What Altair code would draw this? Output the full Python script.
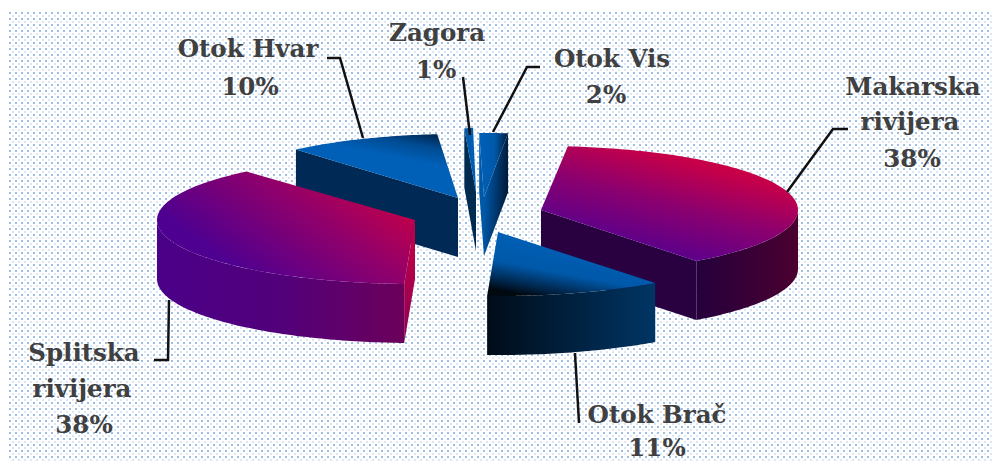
import math
import altair as alt

# Values
names = ["Makarska rivijera", "Otok Brač", "Splitska rivijera", "Otok Hvar", "Zagora", "Otok Vis"]
shares = [38, 11, 38, 10, 1, 2]
START = -84.0  # degrees, clockwise on screen from 3 o'clock

# Slice geometry: apex x, apex y, x radius
apex_x = [541, 498, 415, 458, 476, 484]
apex_y = [210, 232, 220, 198, 192, 197]
radius_x = [257, 260, 258, 248, 140, 230]
RADIUS_Y = 64
DEPTH = 59

# Draw order, back to front
order = [3, 4, 5, 0, 1, 2]


def grad(x1, y1, x2, y2, stops):
    return alt.Gradient(
        gradient="linear", x1=x1, y1=y1, x2=x2, y2=y2,
        stops=[alt.GradientStop(offset=o, color=c) for o, c in stops],
    )


BLUE = "#0060b8"
top_fill = [
    grad(1, 0, 0.4, 1, [(0, "#e0003a"), (0.3, "#c4004a"), (0.6, "#8a0070"), (1, "#4f0092")]),
    grad(0.7, 0.1, 0.25, 1, [(0, "#0062bc"), (0.6, "#0058a8"), (0.88, "#002244"), (1, "#000810")]),
    grad(1, 0.1, 0.15, 0.6, [(0, "#d6003c"), (0.5, "#8f006c"), (1, "#4e0090")]),
    grad(1, 0, 0.7, 0.6, [(0, "#001a38"), (0.4, "#004c94"), (0.75, BLUE), (1, BLUE)]),
    grad(0, 0, 1, 0, [(0, "#0058a8"), (1, BLUE)]),
    grad(0, 0, 1, 0, [(0, BLUE), (0.55, "#0058a8"), (1, "#001c3c")]),
]
wall_fill = [
    grad(0, 0, 1, 0, [(0, "#25003c"), (1, "#4a0030")]),
    grad(0, 0, 1, 0, [(0, "#000c18"), (1, "#003565")]),
    grad(0, 0, 1, 0, [(0, "#4a0088"), (0.5, "#52007a"), (1, "#6c005a")]),
    None, None, None,
]
cut_fill = [
    "#290040",
    None,
    grad(0, 0, 0, 1, [(0, "#cc0040"), (1, "#8a0058")]),
    "#002a55",
    "#002a50",
    grad(0, 0, 1, 0.2, [(0, "#0060b8"), (1, "#001c3c")]),
]
# which cut edge of the slice is seen: 0 = start edge, 1 = end edge
cut_edge = [1, None, 0, 0, 0, 1]
# second seen cut edge (thin wedge seen from its left)
extra_cut = {5: (0, "#0058a8")}

# Leader lines as (x, y) vertices
leaders = [
    [(787, 192), (833, 129), (848, 129)],
    [(575, 353), (579, 423)],
    [(169, 300), (168, 360), (154, 360)],
    [(363, 138), (340, 58), (327, 58)],
    [(470, 135), (463, 77)],
    [(493, 132), (527, 67), (540, 67)],
]

# Labels: text, centre x, baseline y
labels = [
    ("Makarska", 913, 95), ("rivijera", 910, 130), ("38%", 912, 167),
    ("Otok Brač", 657, 423), ("11%", 657, 456),
    ("Splitska", 84, 361), ("rivijera", 82, 397), ("38%", 84, 433),
    ("Otok Hvar", 248, 57), ("10%", 250, 95),
    ("Zagora", 437, 41), ("1%", 436, 78),
    ("Otok Vis", 612, 67), ("2%", 606, 103),
]

WIDTH, HEIGHT = 984, 455
OX, OY = 8, 8  # page margin: reference pixels -> plot pixels


def arc(i, t0, t1, dy=0):
    n = max(2, int(abs(t1 - t0)) + 1)
    pts = []
    for k in range(n + 1):
        t = math.radians(t0 + (t1 - t0) * k / n)
        pts.append([apex_x[i] + radius_x[i] * math.cos(t) - OX,
                    apex_y[i] + RADIUS_Y * math.sin(t) + dy - OY])
    return pts


def feature(ring):
    ring = ring + [ring[0]]
    return {"type": "Feature", "properties": {},
            "geometry": {"type": "Polygon", "coordinates": [ring]}}


def shape(ring, fill):
    return alt.Chart(alt.InlineData(
        values={"type": "FeatureCollection", "features": [feature(ring)]},
        format=alt.DataFormat(type="json", property="features"),
    )).mark_geoshape(fill=fill, strokeWidth=0).project(
        type="identity", scale=1, translate=[0, 0]
    )


layers = []

# Dotted backdrop
rows = list(range(5, HEIGHT, 6))
for c, dy, ox in (("#a0bfe4", 0, 0), ("#dbe7f5", 3, 3)):
    layers.append(
        alt.Chart(alt.InlineData(values=[{"y": y + dy} for y in rows]))
        .mark_rule(color=c, strokeWidth=2, strokeDash=[2, 4], strokeDashOffset=ox)
        .encode(
            y=alt.Y("y:Q", scale=None),
            x=alt.value(1),
            x2=alt.value(WIDTH),
        )
    )

# Slice angles from the shares
angles = []
a = START
for s in shares:
    angles.append((a, a + s * 3.6))
    a += s * 3.6


def cut_ring(i, t):
    apex = [apex_x[i] - OX, apex_y[i] - OY]
    p = arc(i, t, t)[0]
    return [apex, p, [p[0], p[1] + DEPTH], [apex[0], apex[1] + DEPTH]]


for i in order:
    t0, t1 = angles[i]
    apex = [apex_x[i] - OX, apex_y[i] - OY]
    if i in extra_cut:
        edge, col = extra_cut[i]
        layers.append(shape(cut_ring(i, t1 if edge else t0), col))
    if cut_edge[i] is not None:
        layers.append(shape(cut_ring(i, t1 if cut_edge[i] else t0), cut_fill[i]))
    if wall_fill[i] is not None:
        w0, w1 = max(t0, 0), min(t1, 180)
        layers.append(shape(arc(i, w0, w1) + arc(i, w1, w0, DEPTH), wall_fill[i]))
    layers.append(shape([apex] + arc(i, t0, t1), top_fill[i]))

# Leader lines
line_rows = []
for k, line in enumerate(leaders):
    for j, (x, y) in enumerate(line):
        line_rows.append({"k": k, "j": j, "x": x - OX, "y": y - OY})
layers.append(
    alt.Chart(alt.InlineData(values=line_rows))
    .mark_line(color="#111111", strokeWidth=2.5, strokeJoin="miter")
    .encode(x=alt.X("x:Q", scale=None), y=alt.Y("y:Q", scale=None),
            detail="k:N", order="j:Q")
)

# Labels
text_rows = [{"t": t, "x": x - OX, "y": y - OY} for t, x, y in labels]
layers.append(
    alt.Chart(alt.InlineData(values=text_rows))
    .mark_text(font="DejaVu Serif", fontWeight="bold", fontSize=24.5,
               color="#404040", align="center", baseline="alphabetic")
    .encode(x=alt.X("x:Q", scale=None), y=alt.Y("y:Q", scale=None), text="t:N")
)

chart = (
    alt.layer(*layers)
    .resolve_scale(x="independent", y="independent")
    .properties(width=WIDTH, height=HEIGHT, padding=0, background="white",
                autosize=alt.AutoSizeParams(type="none"))
    .configure_view(stroke=None)
    .configure_axis(disable=True)
)
chart.save("out.html", embed_options={"renderer": "svg", "actions": False})
